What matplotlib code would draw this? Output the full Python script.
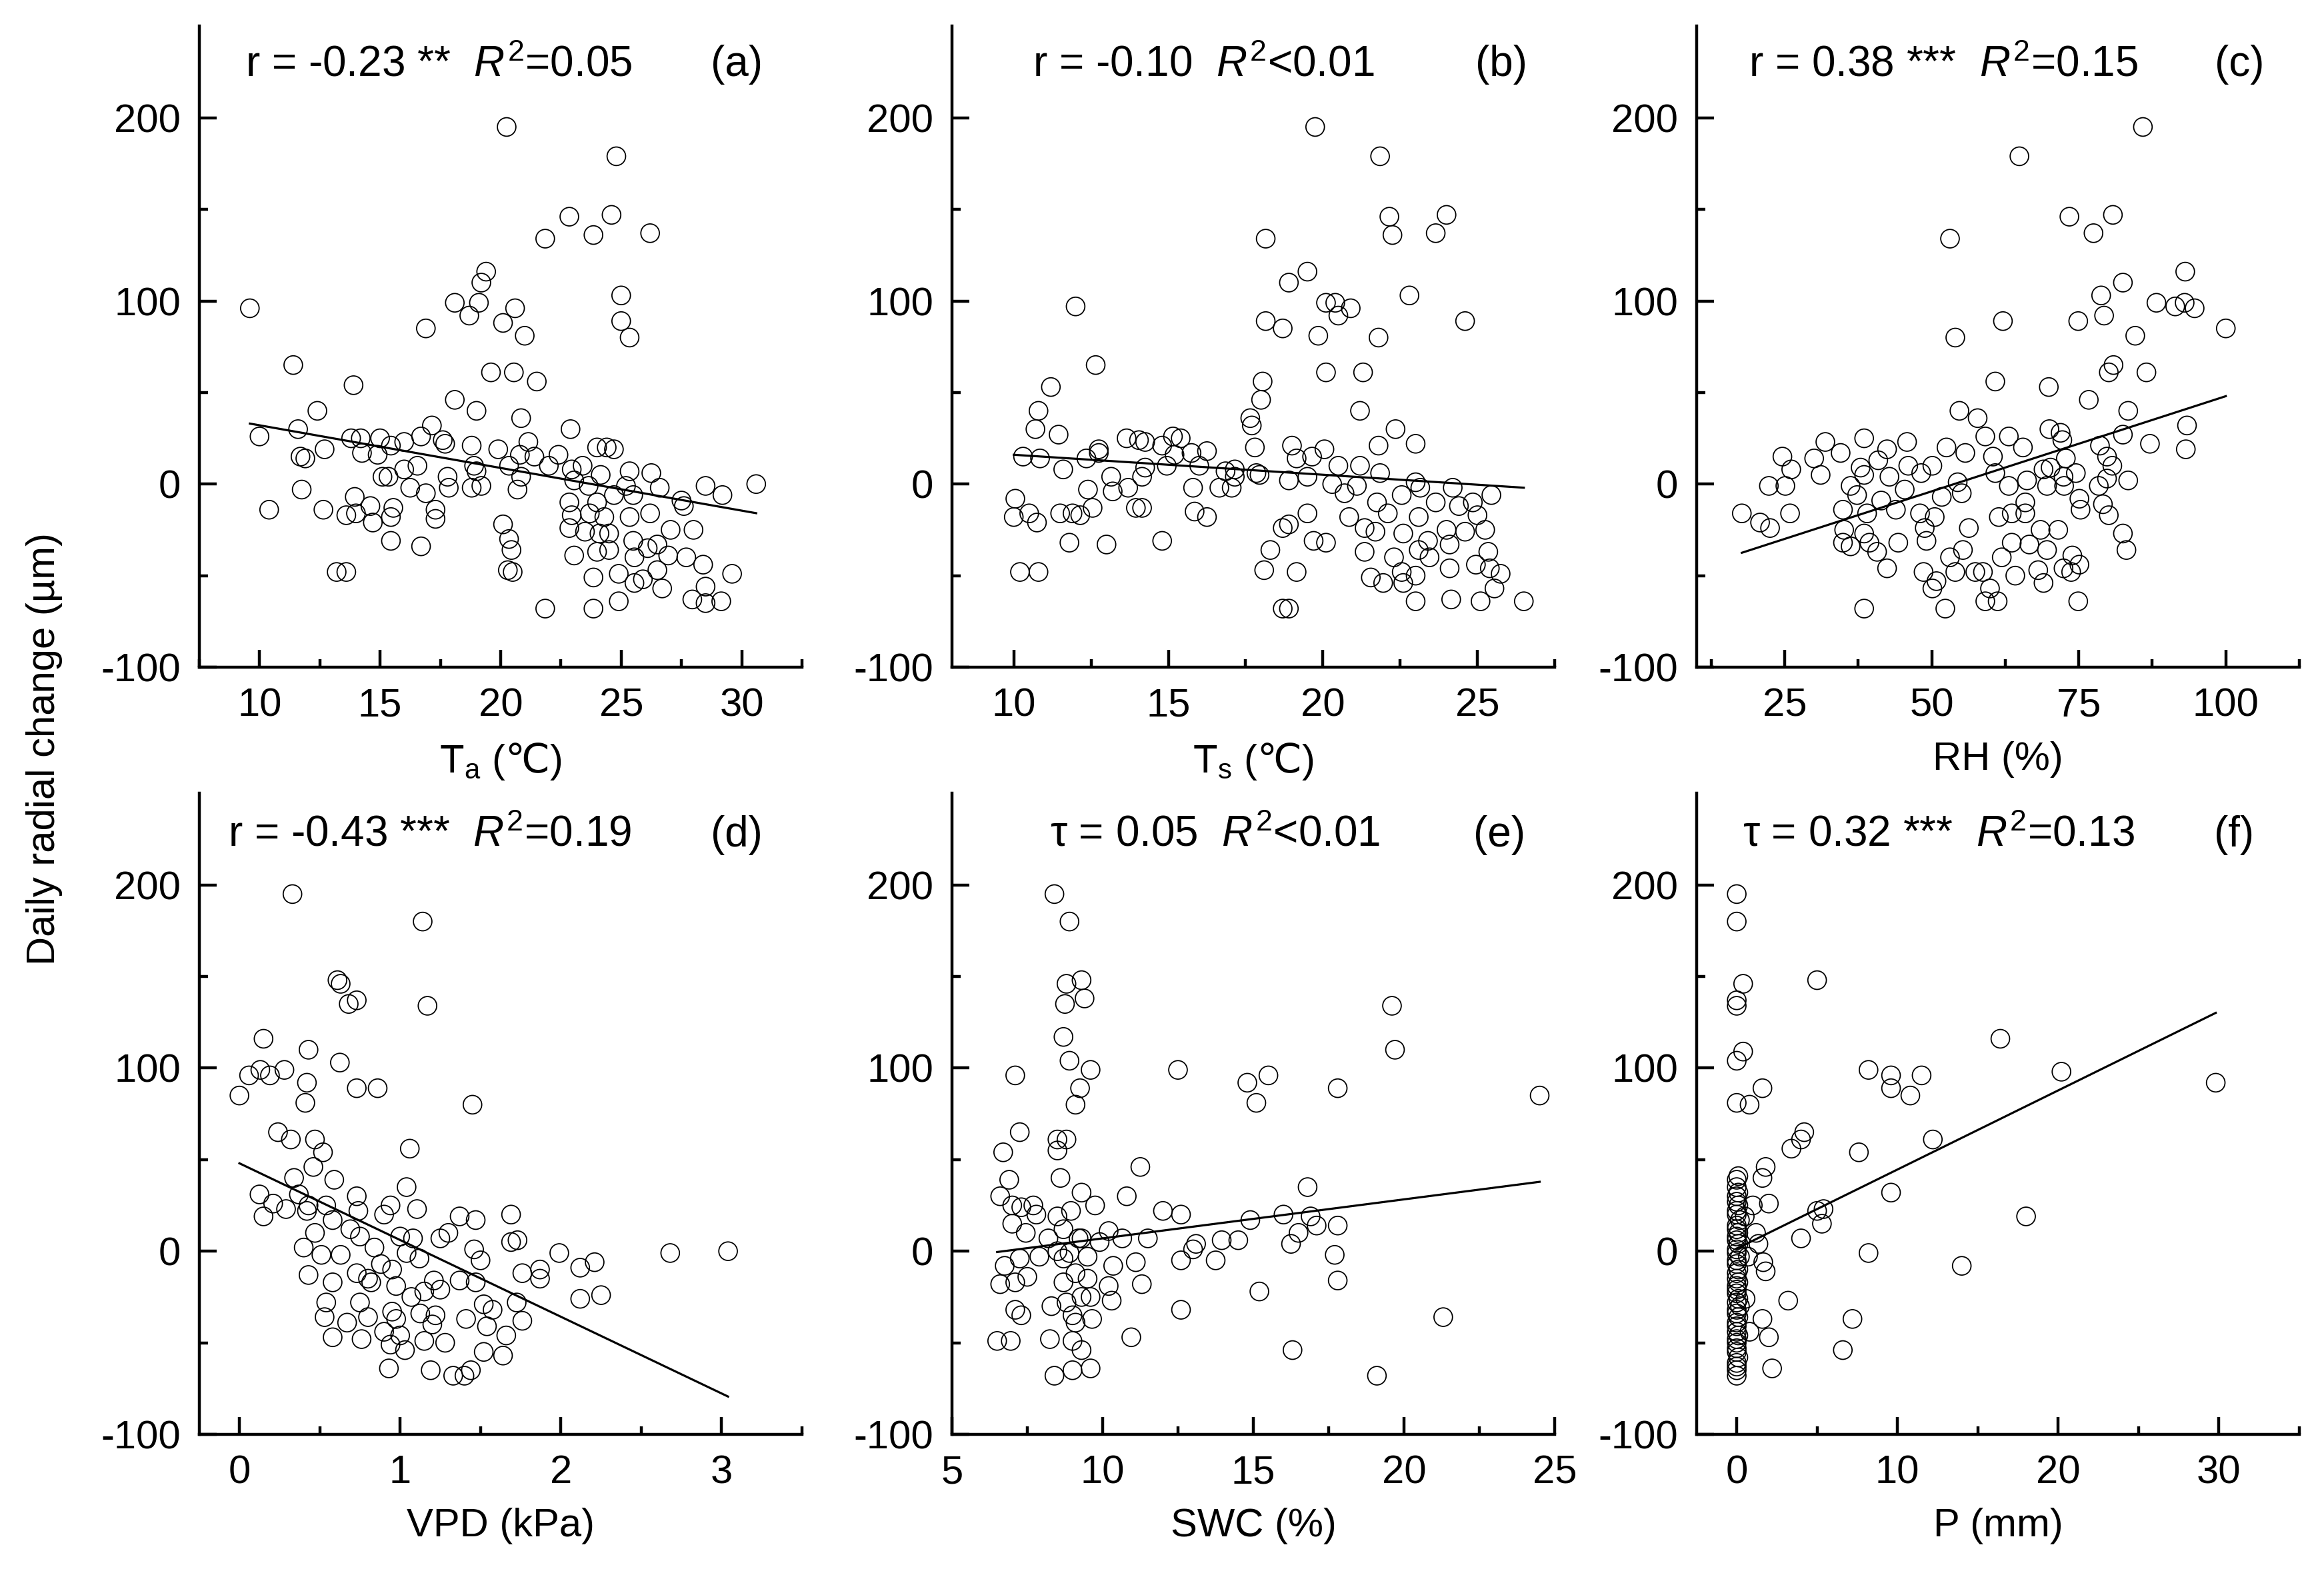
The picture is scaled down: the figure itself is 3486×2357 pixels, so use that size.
import numpy as np
import matplotlib
matplotlib.use('Agg')
import matplotlib.pyplot as plt
from matplotlib.ticker import MultipleLocator, FixedLocator

plt.rcParams['font.family'] = ['Liberation Sans', 'DejaVu Sans']
plt.rcParams['mathtext.fontset'] = 'custom'
plt.rcParams['mathtext.rm'] = 'Liberation Sans'
plt.rcParams['mathtext.it'] = 'Liberation Sans:italic'
plt.rcParams['mathtext.sf'] = 'Noto Sans CJK SC'
plt.rcParams['mathtext.fallback'] = 'stixsans'
plt.rcParams['axes.unicode_minus'] = False

# (a) air temperature
ta_x = [9.6, 10.0, 10.4, 11.4, 11.6, 11.7, 11.9, 11.75, 12.4, 12.7,
        12.65, 13.2, 13.6, 13.9, 13.8, 14.2, 14.25, 13.95, 14.0, 13.6,
        14.6, 14.7, 15.0, 14.9, 15.1, 15.35, 15.45, 15.55, 15.45, 15.45,
        16.0, 16.0, 16.25, 16.55, 16.7, 16.9, 17.15, 16.9, 16.7, 17.3,
        17.3, 17.6, 17.7, 17.8, 17.85, 18.1, 18.1, 18.7, 19.1, 19.2,
        19.4, 19.0, 18.8, 18.9, 19.0, 18.8, 19.2, 19.6, 19.9, 20.25,
        20.1, 20.6, 20.55, 20.85, 21.0, 21.5, 21.15, 20.8, 20.35, 20.7,
        20.85, 21.4, 20.1, 20.35, 20.45, 20.3, 20.5, 21.85, 21.85, 22.85,
        23.85, 24.6, 24.8, 25.0, 25.0, 25.35, 26.2, 22.0, 22.4, 22.9,
        22.95, 23.4, 23.05, 22.85, 22.95, 22.85, 23.05, 23.5, 23.7, 23.65,
        24.0, 23.85, 23.85, 24.0, 24.1, 24.3, 24.15, 24.0, 24.4, 24.7,
        24.5, 24.5, 24.7, 24.9, 24.9, 25.35, 25.35, 25.5, 25.5, 25.55,
        25.55, 25.2, 25.9, 26.2, 26.25, 26.6, 26.1, 26.5, 26.5, 26.7,
        26.95, 27.05, 27.5, 27.6, 27.7, 28.0, 27.95, 28.5, 28.4, 28.5,
        28.5, 29.2, 29.15, 29.6, 30.6]
ta_y = [96, 26, -14, 65, 30, 15, 14, -3, 40, 19,
        -14, -48, -48, 54, 25, 25, 17, -7, -16, -17,
        -12, -21, 25, 16, 4, 4, 21, -13, -18, -31,
        23, 8, -2, 10, 26, 85, 32, -5, -34, -14,
        -19, 24, 22, 4, -2, 46, 99, 92, 99, 110,
        116, 40, 21, 10, 7, -2, -1, 61, 19, 195,
        88, 96, 61, 36, 81, 56, 23, 16, 10, -3,
        4, 15, -22, -30, -36, -47, -48, 134, -68, 146,
        136, 147, 179, 103, 89, 80, 137, 10, 16, 30,
        8, 10, 2, -10, -17, -24, -39, -26, -16, -1,
        -10, -51, -68, -37, -27, -18, 5, 20, 20, 19,
        -36, -27, -6, -49, -64, 7, -18, -6, -31, -40,
        -54, -1, -52, -16, 6, -2, -35, -33, -47, -57,
        -39, -25, -9, -12, -40, -25, -63, -1, -44, -56,
        -65, -6, -64, -49, 0]

# (b) soil temperature
ts_x = [10.05, 10.0, 10.2, 10.3, 10.5, 10.75, 10.7, 10.8, 10.85, 10.8,
        11.2, 11.45, 11.5, 11.6, 11.8, 11.9, 12.0, 12.15, 12.35, 12.4,
        12.55, 12.65, 12.75, 12.75, 13.0, 13.15, 13.2, 13.65, 13.7, 13.95,
        14.15, 14.05, 14.25, 14.15, 14.25, 14.8, 14.95, 14.8, 15.15, 15.4,
        15.2, 15.75, 16.25, 15.8, 15.85, 16.0, 16.25, 16.65, 17.05, 16.85,
        17.15, 17.15, 17.65, 17.7, 17.8, 17.85, 17.95, 18.05, 18.0, 18.15,
        18.15, 18.1, 18.3, 18.7, 18.7, 18.9, 18.7, 18.9, 18.9, 19.0,
        18.9, 19.15, 19.15, 19.5, 19.5, 19.5, 19.65, 19.75, 19.7, 19.85,
        20.05, 20.1, 20.1, 20.1, 20.4, 20.5, 20.5, 20.3, 20.9, 20.7,
        20.85, 21.2, 21.3, 21.2, 21.1, 21.35, 21.35, 21.55, 21.7, 21.75,
        21.85, 21.8, 21.8, 21.85, 21.95, 22.15, 22.25, 22.1, 22.3, 22.35,
        22.55, 22.6, 22.6, 22.55, 22.8, 23.0, 23.0, 23.0, 23.1, 23.0,
        23.1, 23.15, 23.4, 23.45, 23.65, 23.65, 24.0, 24.0, 24.1, 24.1,
        24.15, 24.2, 24.4, 24.6, 24.6, 24.85, 24.95, 25.0, 25.1, 25.25,
        25.35, 25.4, 25.45, 25.55, 25.75, 26.5]
ts_y = [-8, -18, -48, 15, -16, -21, 30, 40, 14, -48,
        53, 27, -16, 8, -32, -16, 97, -17, 14, -3,
        -13, 65, 19, 17, -33, 4, -4, 25, -2, -13,
        -13, 24, 23, 4, 9, 21, 10, -31, 26, 25,
        16, 17, 18, -2, -15, 10, -18, -2, -2, 7,
        4, 8, 36, 32, 20, 6, 5, 56, 46, 134,
        89, -47, -36, 85, -24, -22, -68, -68, 110, 21,
        2, -48, 14, 116, -16, 4, 15, 195, -31, 81,
        19, 99, 61, -32, 99, 92, 10, 0, 96, -5,
        -18, 40, 61, 10, -1, -24, -37, -51, -26, -10,
        179, 80, 21, 6, -54, 146, 136, -16, -40, 30,
        -6, -27, -54, -48, 103, 22, 1, -64, -18, -50,
        -36, -2, -31, -40, -10, 137, 147, -25, -33, -46,
        -63, -2, -12, 89, -26, -10, -44, -17, -64, -25,
        -37, -46, -6, -57, -49, -64]

# (c) relative humidity
rh_x = [17.7, 20.8, 22.5, 22.3, 24.6, 25.1, 26.1, 25.9, 30.0, 31.1,
        31.9, 34.5, 34.9, 35.1, 34.9, 36.2, 36.2, 37.3, 37.9, 38.5,
        38.5, 38.5, 38.5, 39.0, 39.4, 40.9, 41.4, 40.7, 42.4, 42.8,
        42.4, 43.9, 44.3, 45.4, 45.8, 46.0, 48.2, 48.0, 48.6, 48.8,
        49.1, 50.1, 50.5, 50.1, 50.8, 51.7, 52.5, 52.3, 53.1, 54.0,
        54.7, 54.4, 55.1, 53.1, 54.0, 55.3, 55.7, 56.3, 57.4, 57.8,
        59.1, 58.7, 59.1, 59.9, 60.8, 60.4, 60.8, 61.4, 61.9, 61.2,
        62.1, 63.1, 63.1, 63.6, 63.6, 64.2, 64.9, 65.5, 66.2, 65.9,
        65.9, 66.6, 68.1, 68.5, 69.0, 69.6, 69.0, 69.9, 69.6, 70.0,
        70.2, 71.5, 71.9, 72.2, 72.5, 72.4, 72.8, 72.4, 73.4, 73.9,
        73.7, 74.5, 74.9, 75.1, 75.3, 75.1, 74.9, 76.7, 77.5, 78.8,
        79.3, 78.6, 78.4, 79.1, 80.8, 80.1, 80.9, 79.8, 80.7, 79.8,
        80.1, 82.5, 82.5, 83.4, 83.4, 82.5, 83.1, 84.6, 85.9, 86.5,
        87.1, 88.2, 91.4, 93.1, 93.0, 94.7, 93.4, 93.2, 100.0]
rh_y = [-16, -21, -24, -1, 15, -1, 8, -16, 14, 5,
        23, 17, -14, -25, -32, -1, -34, -6, 9, 25,
        5, -27, -68, -16, -32, 13, -9, -37, 19, 4,
        -46, -14, -32, -3, 23, 10, 6, -16, -48, -24,
        -31, 10, -18, -57, -53, -7, 20, -68, 134, 80,
        40, 1, -5, -40, -48, -36, 17, -24, -48, 36,
        26, -48, -64, -57, 56, 15, 6, -18, -40, -64,
        89, 26, -1, -16, -32, -50, 179, 20, 2, -10,
        -16, -33, -47, -25, 8, -1, -54, 53, -36, 30,
        9, -25, 28, 24, -1, 4, 14, -46, 146, -39,
        -48, 6, 89, -8, -14, -44, -64, 46, 137, 103,
        92, 21, -1, -11, 147, 61, 65, 15, 10, 3,
        -17, 110, 27, 40, 2, -27, -36, 81, 195, 61,
        22, 99, 97, 116, 99, 96, 32, 19, 85]

# (d) vapour pressure deficit
vpd_x = [0.0, 0.06, 0.13, 0.19, 0.15, 0.28, 0.33, 0.125, 0.21, 0.15,
         0.29, 0.24, 0.32, 0.34, 0.37, 0.42, 0.41, 0.43, 0.47, 0.52,
         0.46, 0.43, 0.42, 0.47, 0.40, 0.43, 0.51, 0.54, 0.58, 0.59,
         0.61, 0.63, 0.68, 0.73, 0.625, 0.73, 0.86, 0.73, 0.74, 0.69,
         0.75, 0.63, 0.58, 0.54, 0.53, 0.58, 0.67, 0.73, 0.75, 0.80,
         0.82, 0.80, 0.76, 0.84, 0.88, 0.90, 0.94, 0.95, 0.975, 0.95,
         0.90, 0.94, 0.93, 0.975, 1.03, 1.0, 1.04, 1.06, 1.0, 1.04,
         1.08, 1.105, 1.12, 1.14, 1.17, 1.07, 1.125, 1.15, 1.15, 1.19,
         1.2, 1.22, 1.21, 1.25, 1.25, 1.28, 1.30, 1.33, 1.37, 1.37,
         1.40, 1.41, 1.44, 1.45, 1.46, 1.47, 1.50, 1.47, 1.52, 1.52,
         1.54, 1.575, 1.64, 1.66, 1.69, 1.69, 1.73, 1.725, 1.76, 1.76,
         1.87, 1.87, 1.99, 2.12, 2.12, 2.21, 2.25, 2.68, 3.04]
vpd_y = [85, 96, 99, 96, 116, 99, 195, 31, 26, 19,
         23, 65, 61, 40, 31, 92, 81, 110, 61, 54,
         46, 25, 22, 10, 2, -13, -2, 25, 17, 39,
         148, 146, 135, 137, 103, 89, 89, 30, 22, 12,
         8, -2, -17, -28, -36, -47, -39, -12, -28, -15,
         -17, -36, -48, 2, -7, 20, 25, -10, -19, -33,
         -44, -51, -64, -37, -54, -46, 35, 56, 8, -1,
         7, 23, -4, 180, 134, -25, -34, -22, -49, -65,
         -40, -35, -16, -21, 7, -50, 10, -68, 19, -16,
         -68, -37, -65, 80, 1, 17, -5, -17, -29, -55,
         -41, -32, -57, -46, 20, 5, 6, -28, -38, -12,
         -10, -15, -1, -9, -26, -6, -24, -1, 0]

# (e) soil water content
swc_x = [6.6, 6.7, 6.9, 6.6, 6.5, 6.95, 6.75, 7.0, 7.0, 7.1,
         7.25, 7.1, 7.1, 7.3, 7.3, 7.45, 7.5, 7.25, 7.7, 7.8,
         7.9, 8.2, 8.25, 8.4, 8.4, 8.5, 8.5, 8.8, 8.6, 8.5,
         8.7, 8.5, 8.7, 8.3, 8.7, 8.9, 8.8, 8.75, 9.3, 9.4,
         8.7, 8.9, 9.6, 9.25, 9.1, 9.3, 8.95, 9.2, 8.9, 9.3,
         9.5, 9.1, 9.5, 8.8, 9.0, 9.1, 9.3, 9.6, 9.65, 9.0,
         9.3, 9.0, 9.6, 9.75, 9.9, 10.2, 10.2, 10.3, 10.35, 10.65,
         10.8, 10.95, 11.1, 11.25, 11.3, 11.5, 12.0, 12.5, 12.6, 12.6,
         12.6, 13.1, 13.0, 13.75, 13.95, 14.5, 14.8, 15.1, 15.5, 14.9,
         15.2, 16.0, 16.3, 16.25, 16.5, 16.8, 16.9, 17.1, 17.7, 17.8,
         17.8, 17.8, 19.1, 19.6, 19.7, 21.3, 24.5]
swc_y = [30, 54, 39, -18, -49, -49, -8, 15, 25, 96,
         65, -17, -32, -35, 24, 10, -14, -4, 25, 20,
         -3, 7, -48, -68, 195, 55, 61, 61, 40, 19,
         12, 0, -4, -30, -17, 180, 146, 135, 148, 138,
         117, 104, 99, 89, 80, 32, 22, 7, -1, 7,
         -3, -12, -15, -28, -35, -39, -25, -25, -37, -49,
         -54, -65, -64, 25, 5, 11, -19, -27, -8, 7,
         30, -47, -6, 46, -18, 7, 22, 99, 20, -5,
         -32, 4, 1, -5, 6, 6, 92, 81, 96, 17,
         -22, 20, -54, 4, 10, 35, 19, 14, -2, 89,
         14, -16, -68, 134, 110, -36, 85]

# (f) precipitation (dry days first, then rain days)
p_x = [0, 0, 0, 0, 0, 0, 0.1, 0, 0, 0.1,
       0, 0, 0.1, 0, 0, 0.2, 0, 0, 0.1, 0,
       0, 0.1, 0, 0, 0.2, 0, 0, 0.1, 0, 0,
       0.1, 0, 0, 0, 0.1, 0, 0.2, 0, 0, 0.1,
       0, 0, 0, 0.1, 0, 0, 0, 0, 0.1, 0,
       0, 0, 0,
       0.4, 0.4, 0.8, 1.6, 1.0, 0.5, 1.2, 1.35, 0.7, 1.65,
       1.8, 0.55, 0.8, 1.6, 2.0, 2.2, 1.6, 1.8, 2.0, 3.2,
       3.4, 4.0, 4.2, 4.0, 5.0, 5.0, 5.4, 5.3, 6.6, 7.2,
       7.6, 8.2, 8.2, 9.6, 9.6, 9.6, 10.8, 11.5, 12.2, 14.0,
       16.4, 18.0, 20.2, 29.8]
p_y = [195, 180, 137, 134, 104, 81, 41, 39, 35, 32,
       30, 27, 25, 22, 20, 17, 14, 12, 10, 8,
       6, 4, 1, -1, -3, -5, -7, -10, -12, -15,
       -17, -19, -21, -23, -26, -28, -30, -32, -34, -36,
       -39, -41, -44, -46, -48, -50, -53, -55, -58, -61,
       -63, -65, -68,
       146, 109, 80, 89, 25, 19, 10, 4, -3, -6,
       -11, -26, -44, -37, -47, -64, 40, 46, 26, -27,
       56, 61, 65, 7, 148, 22, 23, 15, -54, -37,
       54, 99, -1, 96, 89, 32, 85, 96, 61, -8,
       116, 19, 98, 92]

# fitted lines (slope, intercept)
fits = [(-2.33, 55.4), (-1.09, 26.9), (1.039, -55.9),
        (-41.9, 48.0), (2.13, -14.3), (4.32, 1.4)]

stats = ['r = -0.23 **  $R^2$=0.05',
         'r = -0.10  $R^2$<0.01',
         'r = 0.38 ***  $R^2$=0.15',
         'r = -0.43 ***  $R^2$=0.19',
         'τ = 0.05  $R^2$<0.01',
         'τ = 0.32 ***  $R^2$=0.13']
letters = ['(a)', '(b)', '(c)', '(d)', '(e)', '(f)']
xlabels = [r'T$_\mathrm{a}$ ($\mathsf{℃}$)', r'T$_\mathrm{s}$ ($\mathsf{℃}$)', 'RH (%)',
           'VPD (kPa)', 'SWC (%)', 'P (mm)']

xs = [ta_x, ts_x, rh_x, vpd_x, swc_x, p_x]
ys = [ta_y, ts_y, rh_y, vpd_y, swc_y, p_y]
xlims = [(7.5, 32.5), (8, 27.5), (10, 112.5), (-0.25, 3.5), (5, 25), (-2.5, 35)]
xmajor = [5, 5, 25, 1, 5, 10]
xminor = [2.5, 2.5, 12.5, 0.5, 2.5, 5]
stat_x = [0.077, 0.134, 0.087, 0.048, 0.163, 0.077]
letter_x = [0.935, 0.954, 0.942, 0.935, 0.951, 0.925]

fig = plt.figure(figsize=(34.87, 23.57), dpi=100)
lefts = [0.0857, 0.4095, 0.7298]
bottoms = [0.5753, 0.0870]
w, h = 0.2593, 0.408

for i in range(6):
    row, col = divmod(i, 3)
    ax = fig.add_axes([lefts[col], bottoms[row], w, h])
    ax.scatter(xs[i], ys[i], s=400, facecolors='none', edgecolors='black',
               linewidths=1.3, zorder=3)
    xx = np.array([min(xs[i]), max(xs[i])])
    k, b = fits[i]
    ax.plot(xx, k * xx + b, color='black', lw=2.3, zorder=4)

    ax.set_xlim(*xlims[i])
    ax.set_ylim(-100, 250)
    ax.xaxis.set_major_locator(MultipleLocator(xmajor[i]))
    ax.xaxis.set_minor_locator(MultipleLocator(xminor[i]))
    ax.yaxis.set_major_locator(FixedLocator([-100, 0, 100, 200]))
    ax.yaxis.set_minor_locator(FixedLocator([-50, 50, 150]))
    for s in ['top', 'right']:
        ax.spines[s].set_visible(False)
    for s in ['left', 'bottom']:
        ax.spines[s].set_linewidth(3.2)
    ax.tick_params(which='both', direction='in', width=3.2, labelsize=43)
    ax.tick_params(which='major', length=19)
    ax.tick_params(which='minor', length=9)
    ax.tick_params(axis='x', which='major', pad=22)
    ax.tick_params(axis='y', which='major', pad=20)
    ax.set_xlabel(xlabels[i], fontsize=43, labelpad=18)

    ty = 0.94 if row == 0 else 0.935
    ax.text(stat_x[i], ty, stats[i], transform=ax.transAxes, fontsize=46,
            ha='left', va='center')
    ax.text(letter_x[i], ty, letters[i], transform=ax.transAxes, fontsize=46,
            ha='right', va='center')

fig.text(0.0192, 0.5235, 'Daily radial change (µm)', rotation=90,
         fontsize=43, ha='center', va='center')

fig.savefig('out.png', dpi=100)
